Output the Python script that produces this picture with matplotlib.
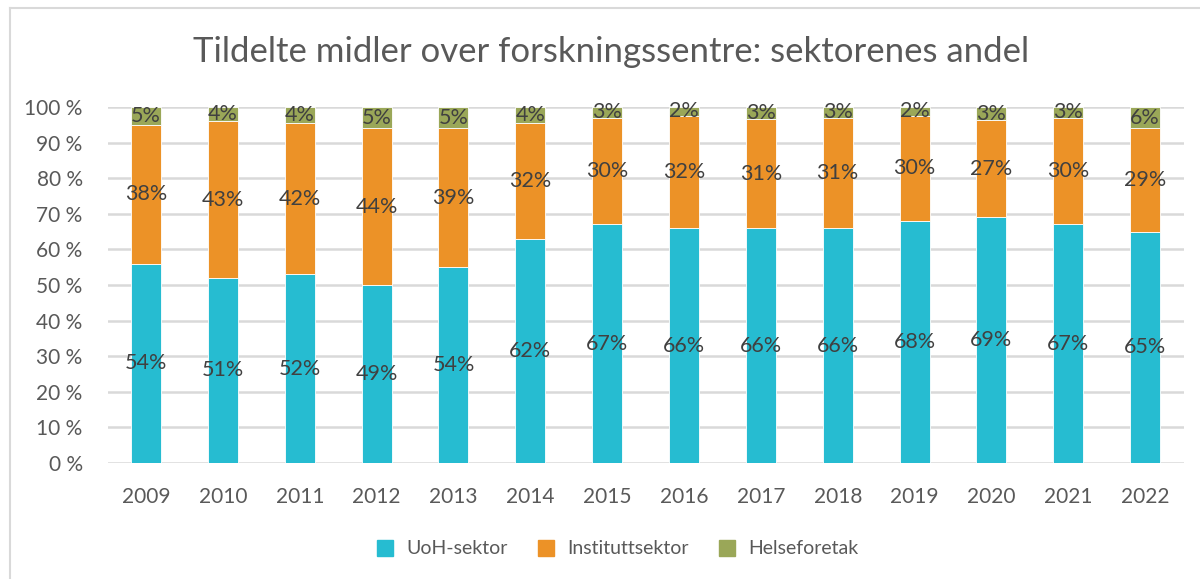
import numpy as np
import matplotlib.pyplot as plt
from matplotlib.lines import Line2D

plt.rcParams['font.family'] = ['Lato', 'DejaVu Sans']

years = ['2009', '2010', '2011', '2012', '2013', '2014', '2015',
         '2016', '2017', '2018', '2019', '2020', '2021', '2022']

# bar shares (%)
uoh = [56, 52, 53, 50, 55, 63, 67, 66, 66, 66, 68, 69, 67, 65]
inst = [39, 44, 42.5, 44, 39, 32.5, 30, 31.5, 30.5, 31, 29.5, 27.2, 30, 29]
helse = [100 - a - b for a, b in zip(uoh, inst)]

# data labels as printed in the chart
uoh_lbl = [54, 51, 52, 49, 54, 62, 67, 66, 66, 66, 68, 69, 67, 65]
inst_lbl = [38, 43, 42, 44, 39, 32, 30, 32, 31, 31, 30, 27, 30, 29]
helse_lbl = [5, 4, 4, 5, 5, 4, 3, 2, 3, 3, 2, 3, 3, 6]

series = ['UoH-sektor', 'Instituttsektor', 'Helseforetak']
colors = ['#26BCD1', '#EC9227', '#9AA758']

fig = plt.figure(figsize=(12, 5.79), dpi=100)
ax = fig.add_axes([0.0897, 0.2003, 0.8966, 0.615])

x = np.arange(len(years))
bottom = np.zeros(len(years))
for vals, lbls, col in zip([uoh, inst, helse], [uoh_lbl, inst_lbl, helse_lbl], colors):
    vals = np.array(vals, dtype=float)
    ax.bar(x, vals, 0.39, bottom=bottom, color=col, edgecolor='white',
           linewidth=0.6, zorder=3)
    for xi, b, v, l in zip(x, bottom, vals, lbls):
        ax.text(xi, b + v / 2, f'{l}%', ha='center', va='center',
                fontsize=15.5, color='#404040', zorder=4)
    bottom += vals

ax.set_xlim(-0.5, len(years) - 0.5)
ax.set_ylim(0, 100)
ax.set_yticks(np.arange(0, 101, 10))
ax.set_yticklabels([f'{v} %' for v in range(0, 101, 10)])
ax.set_xticks(x)
ax.set_xticklabels(years)
ax.tick_params(axis='both', length=0, labelsize=15, colors='#595959')
ax.tick_params(axis='x', pad=17)
ax.tick_params(axis='y', pad=18)
ax.grid(axis='y', color='#D9D9D9', linewidth=1.8, zorder=0)
for s in ax.spines.values():
    s.set_visible(False)

fig.text(0.509, 0.91, 'Tildelte midler over forskningssentre: sektorenes andel',
         ha='center', va='center', fontsize=25, color='#595959')

handles = [Line2D([], [], marker='s', linestyle='none', markersize=11,
                  markerfacecolor=c, markeredgecolor=c) for c in colors]
fig.legend(handles, series, loc='center', bbox_to_anchor=(0.51, 0.052),
           ncol=3, frameon=False, fontsize=14, handletextpad=0.1,
           columnspacing=0.95, labelcolor='#595959')

# chart frame
fig.add_artist(Line2D([10 / 1200, 10 / 1200], [0, 1 - 8 / 579], color='#D9D9D9',
                      lw=1.5, transform=fig.transFigure))
fig.add_artist(Line2D([10 / 1200, 1], [1 - 8 / 579, 1 - 8 / 579], color='#D9D9D9',
                      lw=1.5, transform=fig.transFigure))

fig.savefig('out.png', dpi=100)
